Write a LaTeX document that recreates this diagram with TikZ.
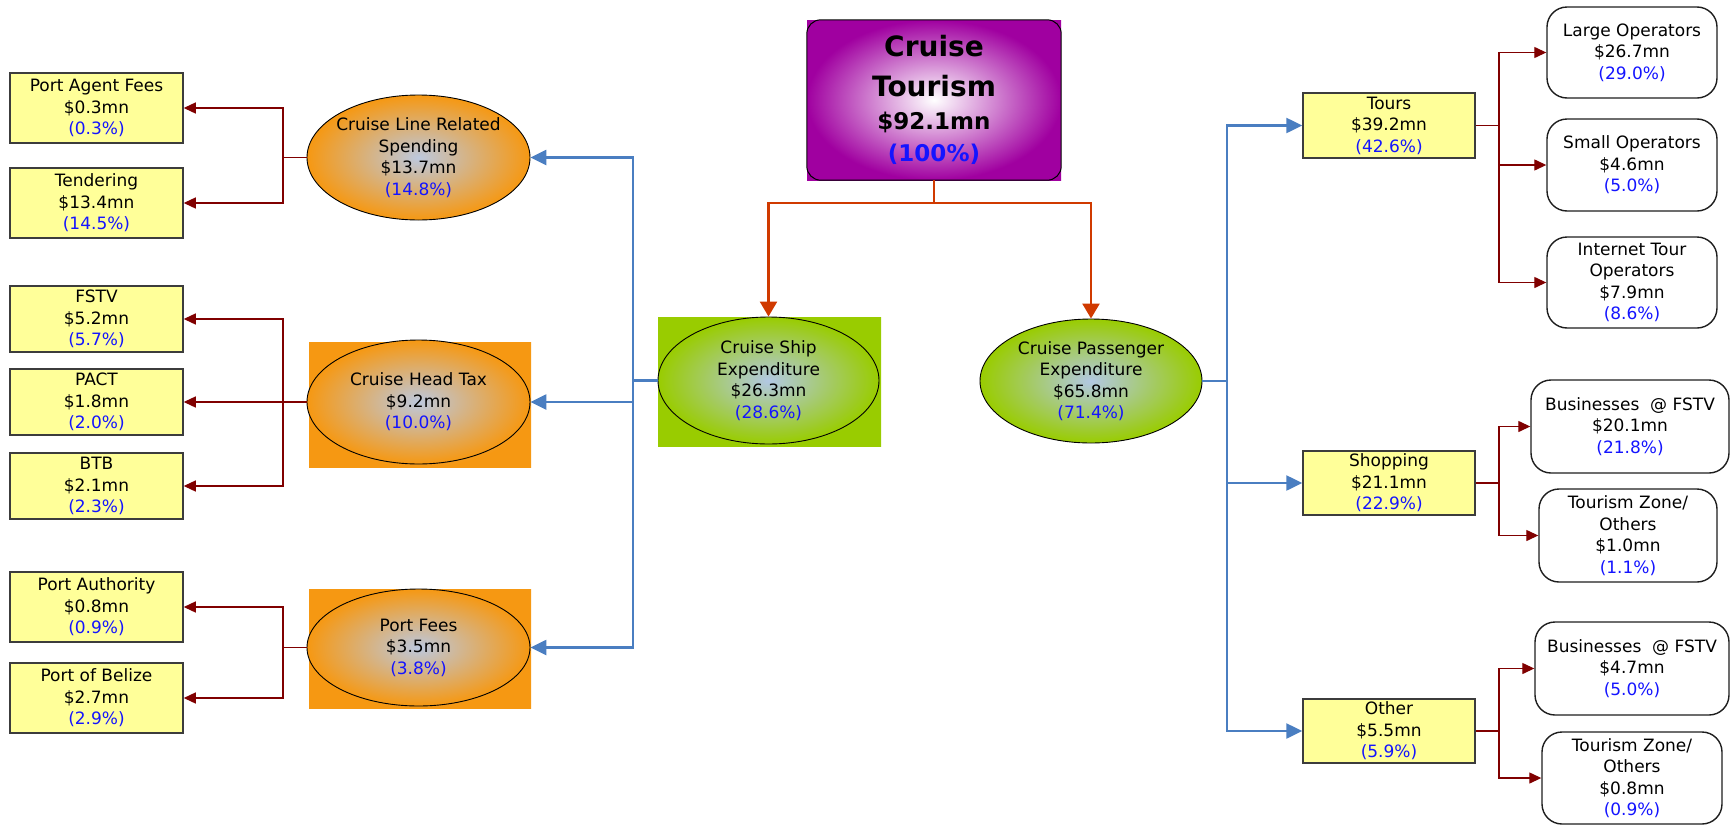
\documentclass[tikz,border=0pt]{standalone}
\usepackage{fontspec}
\setmainfont{DejaVu Sans}
\usetikzlibrary{arrows.meta,shapes.geometric}

\definecolor{pblue}{RGB}{20,20,255}
\definecolor{cyell}{RGB}{255,255,153}
\definecolor{cybord}{RGB}{60,60,60}
\definecolor{cwbord}{RGB}{30,30,30}
\definecolor{corange}{RGB}{246,152,18}
\definecolor{corctr}{RGB}{188,200,222}
\definecolor{cgreen}{RGB}{153,204,0}
\definecolor{cgrctr}{RGB}{178,200,228}
\definecolor{cpurple}{RGB}{160,0,160}
\definecolor{cblue}{RGB}{74,126,193}
\definecolor{cred}{RGB}{208,58,0}
\definecolor{cdred}{RGB}{128,0,0}

\newcommand{\pcnt}[1]{{\color{pblue}(#1\%)}}

\begin{document}
\begin{tikzpicture}[x=1pt,y=-1pt,
  every node/.style={font=\fontsize{17}{21.5}\selectfont, align=center, inner sep=0pt},
  ybox/.style={rectangle, draw=cybord, line width=1.5pt, fill=cyell, minimum width=173pt},
  wbox/.style={rectangle, draw=cwbord, line width=1.4pt, fill=white, rounded corners=20pt},
  orbg/.style={rectangle, inner color=corctr, outer color=corange},
  grbg/.style={rectangle, inner color=cgrctr, outer color=cgreen},
  orell/.style={ellipse, draw=black, line width=0.9pt, inner color=corctr, outer color=corange, inner xsep=-10pt},
  grell/.style={ellipse, draw=black, line width=0.9pt, inner color=cgrctr, outer color=cgreen, inner xsep=-10pt},
  bl/.style={draw=cblue, line width=2.5pt},
  bla/.style={bl, -{Triangle[length=16pt,width=15pt]}},
  rdm/.style={draw=cred, line width=2.5pt},
  rdma/.style={rdm, -{Triangle[length=15pt,width=17pt]}},
  dr/.style={draw=cdred, line width=1.3pt},
  dra/.style={dr, -{Triangle[length=12pt,width=11pt]}}
]
\useasboundingbox (0,0) rectangle (1730,825);

% top box
\node[minimum width=254pt, minimum height=160pt, inner color=white, outer color=cpurple,
      font=\bfseries\fontsize{28}{40}\selectfont] (top) at (934,100)
  {Cruise\\Tourism\\[-7pt]{\fontsize{23}{30}\selectfont\$92.1mn}\\[-8pt]{\fontsize{23}{30}\selectfont\color{pblue}(100\%)}};
\draw[line width=1pt, rounded corners=14pt] (top.south west) rectangle (top.north east);

% second level
\node[grbg, minimum width=223pt, minimum height=129pt] (shipbg) at (769.5,381.5) {};
\node[grell, minimum width=221pt, minimum height=127pt] (ship) at (768.5,380.5)
  {Cruise Ship\\Expenditure\\\$26.3mn\\\pcnt{28.6}};
\node[grell, minimum width=222pt, minimum height=124pt] (pass) at (1091,381)
  {Cruise Passenger\\Expenditure\\\$65.8mn\\\pcnt{71.4}};

% left ellipses
\node[orell, minimum width=223pt, minimum height=125pt] (cl) at (418.5,157.5)
  {Cruise Line Related\\Spending\\\$13.7mn\\\pcnt{14.8}};
\node[orbg, minimum width=222pt, minimum height=125pt] (htbg) at (420,404.5) {};
\node[orell, minimum width=223pt, minimum height=124pt] (ht) at (418.5,402)
  {Cruise Head Tax\\\$9.2mn\\\pcnt{10.0}};
\node[orbg, minimum width=222pt, minimum height=119pt] (pfbg) at (420,648.5) {};
\node[orell, minimum width=223pt, minimum height=117pt] (pf) at (418.5,647.5)
  {Port Fees\\\$3.5mn\\\pcnt{3.8}};

% left boxes
\node[ybox, minimum height=70pt] (pa) at (96.5,108) {Port Agent Fees\\\$0.3mn\\\pcnt{0.3}};
\node[ybox, minimum height=70pt] (tend) at (96.5,203) {Tendering\\\$13.4mn\\\pcnt{14.5}};
\node[ybox, minimum height=66pt] (fstv) at (96.5,319) {FSTV\\\$5.2mn\\\pcnt{5.7}};
\node[ybox, minimum height=66pt] (pact) at (96.5,402) {PACT\\\$1.8mn\\\pcnt{2.0}};
\node[ybox, minimum height=66pt] (btb) at (96.5,486) {BTB\\\$2.1mn\\\pcnt{2.3}};
\node[ybox, minimum height=70pt] (pauth) at (96.5,607) {Port Authority\\\$0.8mn\\\pcnt{0.9}};
\node[ybox, minimum height=70pt] (pbel) at (96.5,698) {Port of Belize\\\$2.7mn\\\pcnt{2.9}};

% right yellow boxes
\node[ybox, minimum width=172pt, minimum height=65pt] (tours) at (1389,125.5) {Tours\\\$39.2mn\\\pcnt{42.6}};
\node[ybox, minimum width=172pt, minimum height=64pt] (shop) at (1389,483) {Shopping\\\$21.1mn\\\pcnt{22.9}};
\node[ybox, minimum width=172pt, minimum height=64pt] (other) at (1389,731) {Other\\\$5.5mn\\\pcnt{5.9}};

% right rounded boxes
\node[wbox, minimum width=170pt, minimum height=91pt] (lo) at (1632,52.5) {Large Operators\\\$26.7mn\\\pcnt{29.0}};
\node[wbox, minimum width=170pt, minimum height=92pt] (so) at (1632,165) {Small Operators\\\$4.6mn\\\pcnt{5.0}};
\node[wbox, minimum width=170pt, minimum height=91pt] (ito) at (1632,282.5) {Internet Tour\\Operators\\\$7.9mn\\\pcnt{8.6}};
\node[wbox, minimum width=198pt, minimum height=93pt] (bf1) at (1630,426.5) {Businesses~ @ FSTV\\\$20.1mn\\\pcnt{21.8}};
\node[wbox, minimum width=178pt, minimum height=93pt] (tz1) at (1628,535.5) {Tourism Zone/\\Others\\\$1.0mn\\\pcnt{1.1}};
\node[wbox, minimum width=194pt, minimum height=93pt] (bf2) at (1632,668.5) {Businesses~ @ FSTV\\\$4.7mn\\\pcnt{5.0}};
\node[wbox, minimum width=180pt, minimum height=92pt] (tz2) at (1632,778) {Tourism Zone/\\Others\\\$0.8mn\\\pcnt{0.9}};

% junctions
\coordinate (jt) at (934,203);
\coordinate (jl) at (633,380.5);
\coordinate (jr) at (1227,381);
\coordinate (j1) at (283,157.5);
\coordinate (j2) at (283,402);
\coordinate (j3) at (283,647.5);
\coordinate (j4) at (1499,125.5);
\coordinate (j5) at (1499,483);
\coordinate (j6) at (1499,731);

% red main connectors
\draw[rdm] (top.south) -- (jt);
\draw[rdma] (jt) -| (ship.north);
\draw[rdma] (jt) -| (pass.north);

% blue connectors
\draw[bl] (ship.west) -- (jl);
\draw[bla] (jl) |- (cl.east);
\draw[bla] (jl) |- (ht.east);
\draw[bla] (jl) |- (pf.east);
\draw[bl] (pass.east) -- (jr);
\draw[bla] (jr) |- (tours.west);
\draw[bla] (jr) |- (shop.west);
\draw[bla] (jr) |- (other.west);

% dark red connectors
\draw[dr] (cl.west) -- (j1);
\draw[dra] (j1) |- (pa.east);
\draw[dra] (j1) |- (tend.east);
\draw[dr] (ht.west) -- (j2);
\draw[dra] (j2) |- (fstv.east);
\draw[dra] (j2) -- (pact.east);
\draw[dra] (j2) |- (btb.east);
\draw[dr] (pf.west) -- (j3);
\draw[dra] (j3) |- (pauth.east);
\draw[dra] (j3) |- (pbel.east);
\draw[dr] (tours.east) -- (j4);
\draw[dra] (j4) |- (lo.west);
\draw[dra] (j4) |- (so.west);
\draw[dra] (j4) |- (ito.west);
\draw[dr] (shop.east) -- (j5);
\draw[dra] (j5) |- (bf1.west);
\draw[dra] (j5) |- (tz1.west);
\draw[dr] (other.east) -- (j6);
\draw[dra] (j6) |- (bf2.west);
\draw[dra] (j6) |- (tz2.west);
\end{tikzpicture}
\end{document}
